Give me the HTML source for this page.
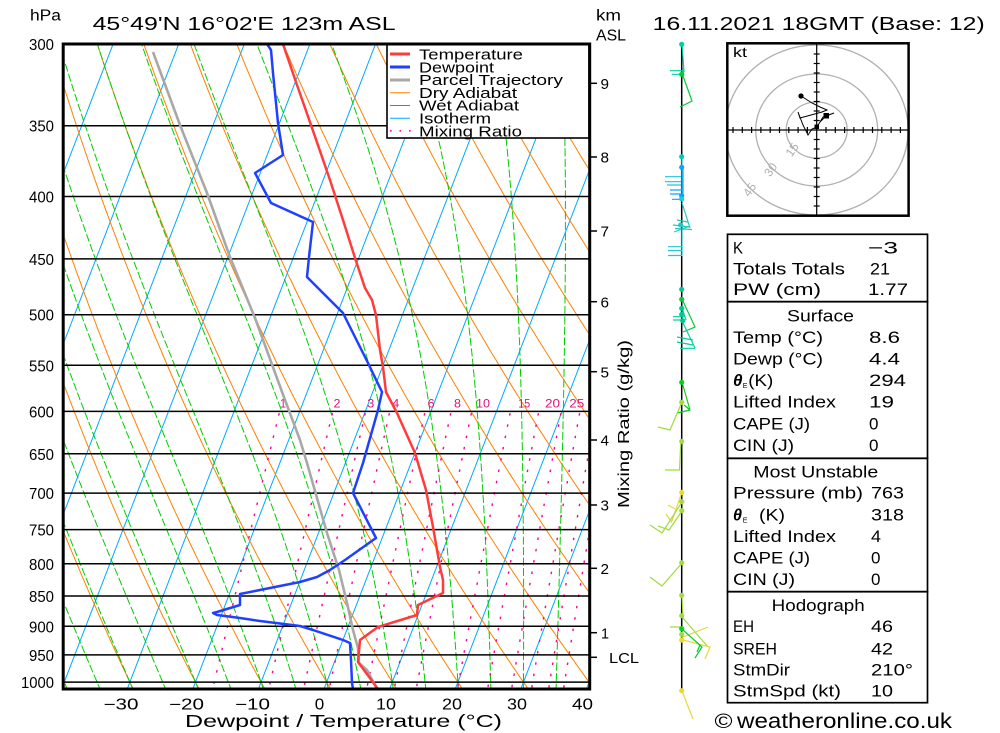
<!DOCTYPE html>
<html><head><meta charset="utf-8">
<style>
html,body{margin:0;padding:0;background:#fff;width:1000px;height:733px;overflow:hidden}
svg{display:block}
text{font-family:"Liberation Sans",sans-serif;fill:#000}
</style></head><body>
<svg id="s" width="1000" height="733" viewBox="0 0 1000 733" xmlns="http://www.w3.org/2000/svg">
<defs><clipPath id="c"><rect x="64.7" y="45.5" width="523.5" height="642"/></clipPath></defs>
<rect x="0" y="0" width="1000" height="733" fill="#fff"/>
<g id="bg" clip-path="url(#c)"></g>

<!-- pressure lines -->
<g stroke="#000" stroke-width="1.5">
<line x1="63" y1="125.7" x2="589" y2="125.7"/>
<line x1="63" y1="196.5" x2="589" y2="196.5"/>
<line x1="63" y1="258.9" x2="589" y2="258.9"/>
<line x1="63" y1="314.7" x2="589" y2="314.7"/>
<line x1="63" y1="365.3" x2="589" y2="365.3"/>
<line x1="63" y1="411.4" x2="589" y2="411.4"/>
<line x1="63" y1="453.8" x2="589" y2="453.8"/>
<line x1="63" y1="493.1" x2="589" y2="493.1"/>
<line x1="63" y1="529.6" x2="589" y2="529.6"/>
<line x1="63" y1="563.8" x2="589" y2="563.8"/>
<line x1="63" y1="596.0" x2="589" y2="596.0"/>
<line x1="63" y1="626.3" x2="589" y2="626.3"/>
<line x1="63" y1="654.9" x2="589" y2="654.9"/>
<line x1="63" y1="682.1" x2="589" y2="682.1"/>
</g>

<!-- mixing ratio labels -->
<g font-size="12" style="fill:#e0107f">
<text x="280" y="407.5" textLength="6" lengthAdjust="spacingAndGlyphs" style="fill:#e0107f">1</text>
<text x="333.5" y="407.5" textLength="7" lengthAdjust="spacingAndGlyphs" style="fill:#e0107f">2</text>
<text x="367.3" y="407.5" textLength="7" lengthAdjust="spacingAndGlyphs" style="fill:#e0107f">3</text>
<text x="392.3" y="407.5" textLength="7" lengthAdjust="spacingAndGlyphs" style="fill:#e0107f">4</text>
<text x="427.7" y="407.5" textLength="7" lengthAdjust="spacingAndGlyphs" style="fill:#e0107f">6</text>
<text x="454" y="407.5" textLength="7" lengthAdjust="spacingAndGlyphs" style="fill:#e0107f">8</text>
<text x="476" y="407.5" textLength="14" lengthAdjust="spacingAndGlyphs" style="fill:#e0107f">10</text>
<text x="518.3" y="407.5" textLength="12" lengthAdjust="spacingAndGlyphs" style="fill:#e0107f">15</text>
<text x="545" y="407.5" textLength="15" lengthAdjust="spacingAndGlyphs" style="fill:#e0107f">20</text>
<text x="569.3" y="407.5" textLength="15" lengthAdjust="spacingAndGlyphs" style="fill:#e0107f">25</text>
</g>

<!-- profiles -->
<g fill="none" stroke-linejoin="round" clip-path="url(#c)">
<polyline stroke="#a8a8a8" stroke-width="2.6" points="153,52 180,125 207,193 230,257 255,318 285,400 300,440 307,463 327,533 339,570 347,603 353,630 358,648 359,663 367,670 377,689"/>
<polyline stroke="#2040ff" stroke-width="2.5" points="267,44 271,50 273,73 278,123 283,155 255,173 271,203 313,222 309,257 307,277 330,300 343,313 368,363 382,392 378,410 363,463 353,493 376,538 345,560 330,570 317,577 300,582 240,594 240,605 217,612 213,613 217,615 240,618 260,621 300,626 313,630 343,640 350,643 351,660 352,683 353,689"/>
<polyline stroke="#ff3c3c" stroke-width="2.5" points="283,44 297,85 311,125 330,180 343,220 355,258 365,288 372,300 376,315 380,350 383,367 386,392 397,413 415,453 426,490 433,527 440,567 443,580 443,593 418,605 417,615 378,627 360,640 358,662 378,689"/>
</g>

<!-- legend -->
<rect x="387" y="44" width="202" height="94" fill="#fff" stroke="#000" stroke-width="1.6"/>
<g stroke-width="3">
<line x1="390" y1="54" x2="410" y2="54" stroke="#ff3c3c"/>
<line x1="390" y1="67" x2="410" y2="67" stroke="#2040ff"/>
<line x1="390" y1="80" x2="410" y2="80" stroke="#a8a8a8"/>
</g>
<line x1="390" y1="92.7" x2="410" y2="92.7" stroke="#ff8000" stroke-width="1"/>
<line x1="390" y1="105.5" x2="410" y2="105.5" stroke="#00cc00" stroke-width="1"/>
<line x1="390" y1="118.3" x2="410" y2="118.3" stroke="#00a8ff" stroke-width="1"/>
<g fill="#ff0090"><rect x="390" y="130" width="1.6" height="1.6"/><rect x="399.5" y="130" width="1.6" height="1.6"/><rect x="409" y="130" width="1.6" height="1.6"/></g>
<g font-size="15">
<text x="419" y="59.5" textLength="104" lengthAdjust="spacingAndGlyphs">Temperature</text>
<text x="419" y="72.3" textLength="75" lengthAdjust="spacingAndGlyphs">Dewpoint</text>
<text x="419" y="85.1" textLength="144" lengthAdjust="spacingAndGlyphs">Parcel Trajectory</text>
<text x="419" y="97.9" textLength="98" lengthAdjust="spacingAndGlyphs">Dry Adiabat</text>
<text x="419" y="110.7" textLength="100" lengthAdjust="spacingAndGlyphs">Wet Adiabat</text>
<text x="419" y="123.5" textLength="72" lengthAdjust="spacingAndGlyphs">Isotherm</text>
<text x="419" y="136.3" textLength="103" lengthAdjust="spacingAndGlyphs">Mixing Ratio</text>
</g>

<!-- plot border -->
<rect x="63.2" y="44" width="526.5" height="645" fill="none" stroke="#000" stroke-width="3"/>

<!-- pressure labels -->
<g font-size="16">
<text x="29" y="50" textLength="25" lengthAdjust="spacingAndGlyphs">300</text>
<text x="29" y="131.7" textLength="25" lengthAdjust="spacingAndGlyphs">350</text>
<text x="29" y="202.5" textLength="25" lengthAdjust="spacingAndGlyphs">400</text>
<text x="29" y="264.9" textLength="25" lengthAdjust="spacingAndGlyphs">450</text>
<text x="29" y="320.7" textLength="25" lengthAdjust="spacingAndGlyphs">500</text>
<text x="29" y="371.3" textLength="25" lengthAdjust="spacingAndGlyphs">550</text>
<text x="29" y="417.4" textLength="25" lengthAdjust="spacingAndGlyphs">600</text>
<text x="29" y="459.8" textLength="25" lengthAdjust="spacingAndGlyphs">650</text>
<text x="29" y="499.1" textLength="25" lengthAdjust="spacingAndGlyphs">700</text>
<text x="29" y="535.6" textLength="25" lengthAdjust="spacingAndGlyphs">750</text>
<text x="29" y="569.8" textLength="25" lengthAdjust="spacingAndGlyphs">800</text>
<text x="29" y="602" textLength="25" lengthAdjust="spacingAndGlyphs">850</text>
<text x="29" y="632.3" textLength="25" lengthAdjust="spacingAndGlyphs">900</text>
<text x="29" y="660.9" textLength="25" lengthAdjust="spacingAndGlyphs">950</text>
<text x="21" y="688.1" textLength="33" lengthAdjust="spacingAndGlyphs">1000</text>
</g>

<!-- bottom labels -->
<g font-size="15.5" text-anchor="middle">
<text x="121" y="709.3" textLength="35" lengthAdjust="spacingAndGlyphs">−30</text>
<text x="186.5" y="709.3" textLength="35" lengthAdjust="spacingAndGlyphs">−20</text>
<text x="252.5" y="709.3" textLength="35" lengthAdjust="spacingAndGlyphs">−10</text>
<text x="319.5" y="709.3" textLength="9.5" lengthAdjust="spacingAndGlyphs">0</text>
<text x="386" y="709.3" textLength="20" lengthAdjust="spacingAndGlyphs">10</text>
<text x="452" y="709.3" textLength="20" lengthAdjust="spacingAndGlyphs">20</text>
<text x="517" y="709.3" textLength="20" lengthAdjust="spacingAndGlyphs">30</text>
<text x="582.5" y="709.3" textLength="21" lengthAdjust="spacingAndGlyphs">40</text>
</g>
<text x="185" y="727" font-size="17.5" textLength="317" lengthAdjust="spacingAndGlyphs">Dewpoint / Temperature (°C)</text>

<!-- headers -->
<text x="30" y="20.5" font-size="15.5" textLength="31" lengthAdjust="spacingAndGlyphs">hPa</text>
<text x="92.6" y="30" font-size="18.5" textLength="303" lengthAdjust="spacingAndGlyphs">45°49'N 16°02'E 123m ASL</text>
<text x="596" y="20.7" font-size="15.5" textLength="25" lengthAdjust="spacingAndGlyphs">km</text>
<text x="596" y="40.7" font-size="15.5" textLength="30" lengthAdjust="spacingAndGlyphs">ASL</text>
<text x="652.7" y="30" font-size="18.5" textLength="332" lengthAdjust="spacingAndGlyphs">16.11.2021 18GMT (Base: 12)</text>

<!-- km axis -->
<g stroke="#000" stroke-width="1.5">
<line x1="589" y1="83.3" x2="597" y2="83.3"/>
<line x1="589" y1="157" x2="597" y2="157"/>
<line x1="589" y1="231" x2="597" y2="231"/>
<line x1="589" y1="301.7" x2="597" y2="301.7"/>
<line x1="589" y1="371.7" x2="597" y2="371.7"/>
<line x1="589" y1="440" x2="597" y2="440"/>
<line x1="589" y1="505" x2="597" y2="505"/>
<line x1="589" y1="568.3" x2="597" y2="568.3"/>
<line x1="589" y1="632.7" x2="597" y2="632.7"/>
<line x1="589" y1="657.3" x2="597" y2="657.3"/>
</g>
<g font-size="15">
<text x="600.5" y="89" textLength="8.5" lengthAdjust="spacingAndGlyphs">9</text>
<text x="600.5" y="162.7" textLength="8.5" lengthAdjust="spacingAndGlyphs">8</text>
<text x="600.5" y="236.7" textLength="8.5" lengthAdjust="spacingAndGlyphs">7</text>
<text x="600.5" y="307.4" textLength="8.5" lengthAdjust="spacingAndGlyphs">6</text>
<text x="600.5" y="377.4" textLength="8.5" lengthAdjust="spacingAndGlyphs">5</text>
<text x="600.5" y="445.7" textLength="8.5" lengthAdjust="spacingAndGlyphs">4</text>
<text x="600.5" y="510.7" textLength="8.5" lengthAdjust="spacingAndGlyphs">3</text>
<text x="600.5" y="574" textLength="8.5" lengthAdjust="spacingAndGlyphs">2</text>
<text x="601" y="638.4" textLength="8" lengthAdjust="spacingAndGlyphs">1</text>
<text x="609" y="663" textLength="30" lengthAdjust="spacingAndGlyphs">LCL</text>
</g>
<text transform="translate(629,424) rotate(-90)" text-anchor="middle" font-size="15.5" textLength="168" lengthAdjust="spacingAndGlyphs">Mixing Ratio (g/kg)</text>

<!-- wind barbs -->
<line x1="681.7" y1="44" x2="681.7" y2="690" stroke="#000" stroke-width="1.5"/>
<g fill="none" stroke-width="1.2">
<path stroke="#00d0a0" d="M682,44 L684,72 M670,70.7 L684,70.7 M671.7,74.3 L683.5,74.3 M683.5,68 L683.5,76"/>
<path stroke="#00cc33" d="M683,76 L692,101 L680,107 M686,104 L692,101"/>
<path stroke="#20c8d8" d="M682,157 L682,200 M665,176.7 L681,176.7 M665,181.7 L681,181.7 M667,185 L681,185"/>
<path stroke="#10a0ff" d="M670,190 L682,190 M670,194 L682,194 M672,199.3 L682,199.3 M683,167 L683,200"/>
<path stroke="#20c8c0" d="M682,203 L690,228 M673,225 L690,227 M675,228.5 L692,229.5 M677,220 L688,222 M674,232 L690,226"/>
<path stroke="#20c8d0" d="M682,230 L682,256 M668,246.7 L682,246.7 M668,250.5 L682,250.5 M668,255.5 L682,255.5"/>
<path stroke="#00cc33" d="M682,299 L695,327 L683,332"/>
<path stroke="#00d0a0" d="M673,316.7 L685,316.7 M673,320 L685,320 M683,323 L695,348 M677,337 L693,340 M677,342 L693,345 M680,348.3 L695,348.3 M682,308 L686,320"/>
<path stroke="#10cc20" d="M682,382 L690,410 L677,413 M684,405 L690,410"/>
<path stroke="#a0dc40" d="M682,402 L670,430 L658,427 M681,441 L680.5,448 L679.5,470 L665,470"/>
<path stroke="#e8d838" d="M682,492 L671.5,522 L666,514 M675,509 L668,505"/>
<path stroke="#a0dc40" d="M682,502 L662,533 L650,525 M682,511 L669,530 L658,526 M682,563 L662,586 L650,577 M682,595 L683,618 L708,647 M670,627 L683,627"/>
<path stroke="#e8d838" d="M708,627 L683,637 M683,640 L710,647 L705,659 M682,691 L693,719"/>
<path stroke="#00cc33" d="M683,630 L702,647 L695,658 M700,645 L697,652"/>
</g>
<g>
<circle cx="681.7" cy="44.3" r="2.6" fill="#00d0a0"/>
<circle cx="681.7" cy="74.3" r="2.6" fill="#00cc33"/>
<circle cx="681.7" cy="156.7" r="2.6" fill="#00c8c0"/>
<circle cx="681.7" cy="167.3" r="2.6" fill="#10a0ff"/>
<circle cx="681.7" cy="195.7" r="2.6" fill="#10a0ff"/>
<circle cx="681.7" cy="199" r="2.6" fill="#20c8d8"/>
<circle cx="680.7" cy="225" r="2.6" fill="#20c8c0"/>
<circle cx="681.7" cy="289.3" r="2.6" fill="#00c890"/>
<circle cx="681.7" cy="299.3" r="2.6" fill="#00cc33"/>
<circle cx="681.7" cy="308.3" r="2.6" fill="#00c890"/>
<circle cx="681.7" cy="314.3" r="2.6" fill="#00c890"/>
<circle cx="682.7" cy="320.7" r="2.6" fill="#00c890"/>
<circle cx="681.7" cy="382.3" r="2.6" fill="#10cc20"/>
<circle cx="681.7" cy="402.3" r="2.6" fill="#a0dc40"/>
<circle cx="681.7" cy="441.3" r="2.6" fill="#a0dc40"/>
<circle cx="681.7" cy="492.3" r="2.6" fill="#e8d838"/>
<circle cx="681.7" cy="501.7" r="2.6" fill="#a0dc40"/>
<circle cx="681.7" cy="510.7" r="2.6" fill="#a0dc40"/>
<circle cx="681.7" cy="562.7" r="2.6" fill="#a0dc40"/>
<circle cx="681.7" cy="595.3" r="2.6" fill="#a0dc40"/>
<circle cx="681.7" cy="615.7" r="2.6" fill="#a0dc40"/>
<circle cx="681.7" cy="628.7" r="2.6" fill="#10cc20"/>
<circle cx="681.7" cy="634.3" r="2.6" fill="#a0dc40"/>
<circle cx="681.7" cy="640" r="2.6" fill="#e8d838"/>
<circle cx="681.7" cy="690.7" r="2.6" fill="#e8d838"/>
</g>

<!-- hodograph -->
<defs><clipPath id="hc"><rect x="728" y="44.5" width="180" height="170"/></clipPath></defs>
<g clip-path="url(#hc)" fill="none" stroke="#b0b0b0" stroke-width="1.3">
<ellipse cx="816.7" cy="130" rx="30.5" ry="28"/>
<ellipse cx="816.7" cy="130" rx="61" ry="56"/>
<ellipse cx="816.7" cy="130" rx="91.5" ry="85"/>
</g>
<g id="hod" stroke="#000" stroke-width="1.2">
<line x1="727" y1="130" x2="909" y2="130"/>
<line x1="816.7" y1="43" x2="816.7" y2="216"/>
</g>
<g font-size="12" style="fill:#b0b0b0" text-anchor="middle">
<text transform="translate(795.5,152) rotate(-55)" style="fill:#b0b0b0">15</text>
<text transform="translate(774,172) rotate(-55)" style="fill:#b0b0b0">30</text>
<text transform="translate(753,192) rotate(-55)" style="fill:#b0b0b0">45</text>
</g>
<polyline fill="none" stroke="#000" stroke-width="1" points="801,96 812,103 820,107 827,110 822,112 800,118 798,112 803,125 808,135 812,129 817,127 823,117 834,113 826,116 820,122"/>
<circle cx="801" cy="96" r="2.6" fill="#000"/>
<rect x="814.5" y="124.5" width="4.5" height="4.5" fill="#000"/>
<rect x="823.5" y="113" width="5.5" height="5.5" fill="#000"/>
<rect x="727.3" y="43.3" width="181.3" height="172.4" fill="none" stroke="#000" stroke-width="2.5"/>
<text x="733" y="57" font-size="14" textLength="14" lengthAdjust="spacingAndGlyphs">kt</text>

<!-- table -->
<g fill="none" stroke="#000" stroke-width="1.7">
<rect x="727.5" y="234.3" width="200" height="67.4"/>
<rect x="727.5" y="301.7" width="200" height="156.6"/>
<rect x="727.5" y="458.3" width="200" height="133.4"/>
<rect x="727.5" y="591.7" width="200" height="111"/>
</g>
<g font-size="17">
<text x="733" y="253.5" textLength="10" lengthAdjust="spacingAndGlyphs">K</text>
<text x="868" y="253.5" textLength="30" lengthAdjust="spacingAndGlyphs">−3</text>
<text x="733" y="274.3" textLength="112" lengthAdjust="spacingAndGlyphs">Totals Totals</text>
<text x="870" y="274.3" textLength="20" lengthAdjust="spacingAndGlyphs">21</text>
<text x="733" y="294.8" textLength="88" lengthAdjust="spacingAndGlyphs">PW (cm)</text>
<text x="868" y="294.8" textLength="40" lengthAdjust="spacingAndGlyphs">1.77</text>
<text x="787" y="321.7" textLength="67" lengthAdjust="spacingAndGlyphs">Surface</text>
<text x="733" y="343" textLength="90" lengthAdjust="spacingAndGlyphs">Temp (°C)</text>
<text x="869" y="343" textLength="31" lengthAdjust="spacingAndGlyphs">8.6</text>
<text x="733" y="364.3" textLength="90" lengthAdjust="spacingAndGlyphs">Dewp (°C)</text>
<text x="869" y="364.3" textLength="31" lengthAdjust="spacingAndGlyphs">4.4</text>
<text x="733" y="386" font-weight="bold" font-style="italic" textLength="9.5" lengthAdjust="spacingAndGlyphs">θ</text>
<text x="742.7" y="388" font-size="7" textLength="4">E</text>
<text x="748.3" y="386" textLength="25" lengthAdjust="spacingAndGlyphs">(K)</text>
<text x="869" y="386" textLength="37" lengthAdjust="spacingAndGlyphs">294</text>
<text x="733" y="407.7" textLength="103" lengthAdjust="spacingAndGlyphs">Lifted Index</text>
<text x="869" y="407.7" textLength="25" lengthAdjust="spacingAndGlyphs">19</text>
<text x="733" y="429.5" textLength="77" lengthAdjust="spacingAndGlyphs">CAPE (J)</text>
<text x="869" y="429.5">0</text>
<text x="733" y="451" textLength="61" lengthAdjust="spacingAndGlyphs">CIN (J)</text>
<text x="869" y="451">0</text>
<text x="753.3" y="477.7" textLength="125" lengthAdjust="spacingAndGlyphs">Most Unstable</text>
<text x="733" y="498.7" textLength="130" lengthAdjust="spacingAndGlyphs">Pressure (mb)</text>
<text x="871" y="498.7" textLength="33" lengthAdjust="spacingAndGlyphs">763</text>
<text x="733" y="520.3" font-weight="bold" font-style="italic" textLength="9" lengthAdjust="spacingAndGlyphs">θ</text>
<text x="742.7" y="522.3" font-size="7" textLength="4">E</text>
<text x="759" y="520.3" textLength="26" lengthAdjust="spacingAndGlyphs">(K)</text>
<text x="871" y="520.3" textLength="33" lengthAdjust="spacingAndGlyphs">318</text>
<text x="733" y="542" textLength="103" lengthAdjust="spacingAndGlyphs">Lifted Index</text>
<text x="871" y="542" textLength="10" lengthAdjust="spacingAndGlyphs">4</text>
<text x="733" y="563.3" textLength="77" lengthAdjust="spacingAndGlyphs">CAPE (J)</text>
<text x="871" y="563.3">0</text>
<text x="733" y="585" textLength="62" lengthAdjust="spacingAndGlyphs">CIN (J)</text>
<text x="871" y="585">0</text>
<text x="771.7" y="611" textLength="93" lengthAdjust="spacingAndGlyphs">Hodograph</text>
<text x="733" y="632" textLength="21" lengthAdjust="spacingAndGlyphs">EH</text>
<text x="871" y="632" textLength="22" lengthAdjust="spacingAndGlyphs">46</text>
<text x="733" y="654.3" textLength="44" lengthAdjust="spacingAndGlyphs">SREH</text>
<text x="871" y="654.3" textLength="22" lengthAdjust="spacingAndGlyphs">42</text>
<text x="733" y="675.3" textLength="57" lengthAdjust="spacingAndGlyphs">StmDir</text>
<text x="871" y="675.3" textLength="42" lengthAdjust="spacingAndGlyphs">210°</text>
<text x="733" y="696.7" textLength="108" lengthAdjust="spacingAndGlyphs">StmSpd (kt)</text>
<text x="871" y="696.7" textLength="22" lengthAdjust="spacingAndGlyphs">10</text>
</g>
<text x="714.5" y="728" font-size="20" textLength="18" lengthAdjust="spacingAndGlyphs">©</text>
<text x="737" y="728" font-size="21" textLength="215" lengthAdjust="spacingAndGlyphs">weatheronline.co.uk</text>
</svg>
<script>
(function(){
var NS="http://www.w3.org/2000/svg";
var bg=document.getElementById('bg');
function yOf(p){return 44+530*Math.log(p/300);}
function xOf(T,y){return 324+6.56*T+0.385*(689-y);}
function add(pts,attrs,parent){var e=document.createElementNS(NS,'path');
 var d='M'+pts.map(function(q){return q[0].toFixed(1)+','+q[1].toFixed(1);}).join('L');
 e.setAttribute('d',d);e.setAttribute('fill','none');
 for(var k in attrs)e.setAttribute(k,attrs[k]);(parent||bg).appendChild(e);}
var T,p,i;
for(T=-90;T<=50;T+=10){add([[xOf(T,30),30],[xOf(T,700),700]],{stroke:'#00a8ff','stroke-width':1});}
for(var th=-40;th<=130;th+=10){var pts=[];for(p=290;p<=1015;p+=5){var t=(th+273.15)*Math.pow(p/1000,0.2857)-273.15;var y=yOf(p);pts.push([xOf(t,y),y]);}
 add(pts,{stroke:'#ff8000','stroke-width':1});}
function es(t){return 6.112*Math.exp(17.67*t/(t+243.5));}
function dTdp(t,pp){var Tk=t+273.15;var e=es(t);var rs=0.622*e/(pp-e);
 return (287*Tk+2.5e6*rs)/(pp*(1004+2.5e6*2.5e6*rs*0.622/(287*Tk*Tk)));}
for(var tw=-40;tw<=40;tw+=5){
 var up=[];T=tw;p=1000;
 while(p>=288){var y1=yOf(p);up.push([xOf(T,y1),y1]);var h=-2;var k1=dTdp(T,p);var k2=dTdp(T+k1*h/2,p+h/2);T+=k2*h;p+=h;}
 var dn=[];T=tw;p=1000;
 while(p<=1016){var h2=2;var a1=dTdp(T,p);var a2=dTdp(T+a1*h2/2,p+h2/2);T+=a2*h2;p+=h2;var y2=yOf(p);dn.push([xOf(T,y2),y2]);}
 add(dn.reverse().concat(up),{stroke:'#00cc00','stroke-width':1,'stroke-dasharray':'8,2.5'});
}
[1,2,3,4,6,8,10,15,20,25,30,35,40,50].forEach(function(w){var pts=[];
 for(p=602;p<=1015;p+=4){var e=w/1000*p/(0.622+w/1000);var l=Math.log(e/6.112);var Td=243.5*l/(17.67-l);var y=yOf(p);pts.push([xOf(Td,y),y]);}
 add(pts,{stroke:'#ff0090','stroke-width':1.4,'stroke-dasharray':'2.5,9'});});
var hod=document.getElementById('hod');
var cx=816.7,cy=130;
for(i=-9;i<=9;i++){if(i===0)continue;var x=cx+i*9.3;if(x<729||x>907)continue;
 add([[x,cy-3],[x,cy+3]],{stroke:'#000','stroke-width':1.2},hod);}
for(i=-9;i<=9;i++){if(i===0)continue;var yy=cy+i*9.5;if(yy<45||yy>214)continue;
 add([[cx-3,yy],[cx+3,yy]],{stroke:'#000','stroke-width':1.2},hod);}
})();
</script>
</body></html>
